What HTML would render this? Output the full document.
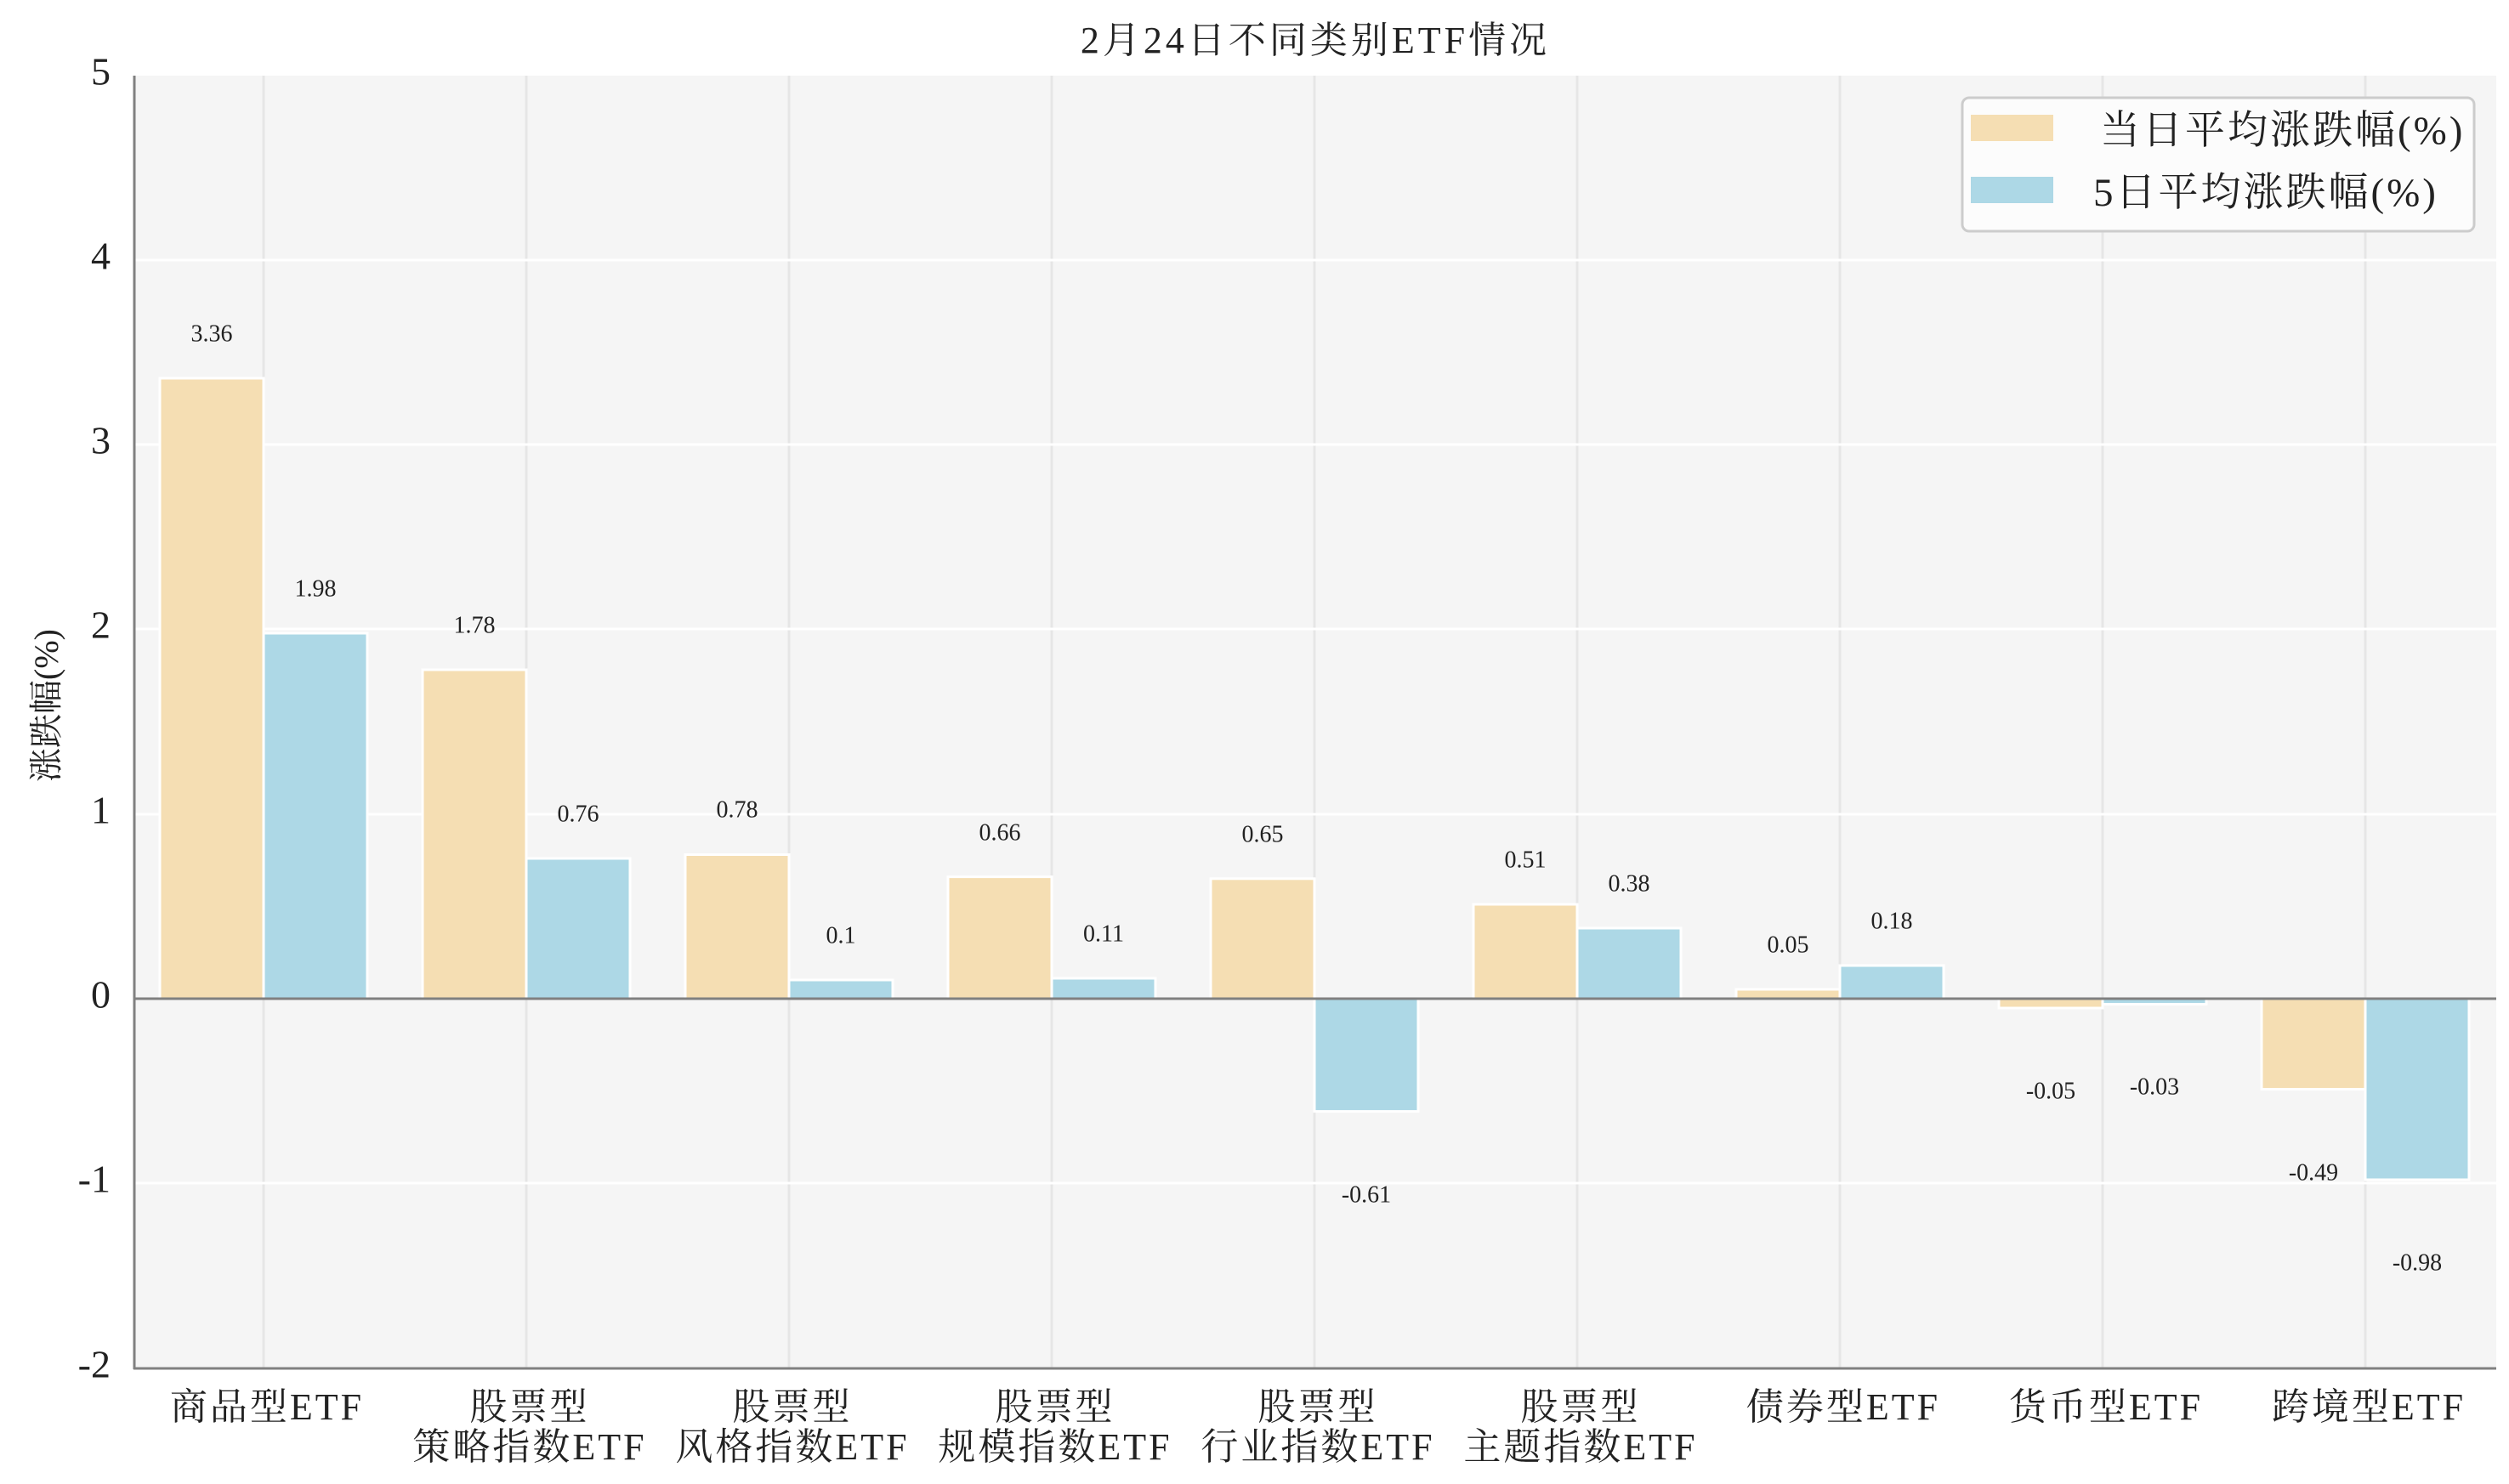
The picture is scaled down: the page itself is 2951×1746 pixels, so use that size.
<!DOCTYPE html>
<html><head><meta charset="utf-8"><style>
html,body{margin:0;padding:0;background:#fff}
svg{display:block}
text{font-family:"Liberation Serif","Noto Serif CJK SC",serif;fill:#222}
</style></head><body>
<svg width="2951" height="1746" viewBox="0 0 2951 1746" xmlns="http://www.w3.org/2000/svg">
<rect x="159" y="89" width="2777" height="1521" fill="#f5f5f5"/>
<g stroke="#e6e6e6" stroke-width="3">
<line x1="310" y1="89" x2="310" y2="1610"/><line x1="619" y1="89" x2="619" y2="1610"/><line x1="928" y1="89" x2="928" y2="1610"/><line x1="1237" y1="89" x2="1237" y2="1610"/><line x1="1546" y1="89" x2="1546" y2="1610"/><line x1="1855" y1="89" x2="1855" y2="1610"/><line x1="2164" y1="89" x2="2164" y2="1610"/><line x1="2473" y1="89" x2="2473" y2="1610"/><line x1="2782" y1="89" x2="2782" y2="1610"/>
</g>
<g stroke="#ffffff" stroke-width="3">
<line x1="159" y1="306" x2="2936" y2="306"/><line x1="159" y1="523" x2="2936" y2="523"/><line x1="159" y1="740" x2="2936" y2="740"/><line x1="159" y1="958" x2="2936" y2="958"/><line x1="159" y1="1392" x2="2936" y2="1392"/>
</g>
<g stroke="#fff" stroke-width="3">
<rect x="188" y="445" width="122" height="730" fill="#f5deb3"/>
<rect x="310" y="745" width="122" height="430" fill="#add8e6"/>
<rect x="497" y="788" width="122" height="387" fill="#f5deb3"/>
<rect x="619" y="1010" width="122" height="165" fill="#add8e6"/>
<rect x="806" y="1005.5" width="122" height="169.5" fill="#f5deb3"/>
<rect x="928" y="1153" width="122" height="22" fill="#add8e6"/>
<rect x="1115" y="1031.6" width="122" height="143.4" fill="#f5deb3"/>
<rect x="1237" y="1151" width="122" height="24" fill="#add8e6"/>
<rect x="1424" y="1033.8" width="122" height="141.2" fill="#f5deb3"/>
<rect x="1546" y="1175" width="122" height="132.6" fill="#add8e6"/>
<rect x="1733" y="1064" width="122" height="111" fill="#f5deb3"/>
<rect x="1855" y="1092" width="122" height="83" fill="#add8e6"/>
<rect x="2042" y="1164" width="122" height="11" fill="#f5deb3"/>
<rect x="2164" y="1136" width="122" height="39" fill="#add8e6"/>
<rect x="2351" y="1175" width="122" height="11" fill="#f5deb3"/>
<rect x="2473" y="1175" width="122" height="6.5" fill="#add8e6"/>
<rect x="2660" y="1175" width="122" height="106.5" fill="#f5deb3"/>
<rect x="2782" y="1175" width="122" height="213" fill="#add8e6"/>
</g>
<line x1="159" y1="1175" x2="2936" y2="1175" stroke="#808080" stroke-width="3"/>
<line x1="158" y1="89" x2="158" y2="1611" stroke="#808080" stroke-width="3"/>
<line x1="157" y1="1610" x2="2936" y2="1610" stroke="#808080" stroke-width="3"/>
<g font-size="28" text-anchor="middle" dominant-baseline="middle">
<text x="249" y="395">3.36</text><text x="371" y="695">1.98</text>
<text x="558" y="738">1.78</text><text x="680" y="960">0.76</text>
<text x="867" y="955">0.78</text><text x="989" y="1103">0.1</text>
<text x="1176" y="982">0.66</text><text x="1298" y="1101">0.11</text>
<text x="1485" y="984">0.65</text><text x="1607" y="1408">-0.61</text>
<text x="1794" y="1014">0.51</text><text x="1916" y="1042">0.38</text>
<text x="2103" y="1114">0.05</text><text x="2225" y="1086">0.18</text>
<text x="2412" y="1286">-0.05</text><text x="2534" y="1281">-0.03</text>
<text x="2721" y="1382">-0.49</text><text x="2843" y="1488">-0.98</text>
</g>
<g font-size="46" text-anchor="end" dominant-baseline="middle">
<text x="130" y="89">5</text><text x="130" y="306">4</text><text x="130" y="523">3</text><text x="130" y="740">2</text><text x="130" y="958">1</text><text x="130" y="1175">0</text><text x="130" y="1392">-1</text><text x="130" y="1610">-2</text>
</g>
<g font-size="44" text-anchor="middle" letter-spacing="3">
<text x="314" y="1670">商品型ETF</text>
<text x="623" y="1670">股票型</text><text x="623" y="1717">策略指数ETF</text>
<text x="932" y="1670">股票型</text><text x="932" y="1717">风格指数ETF</text>
<text x="1241" y="1670">股票型</text><text x="1241" y="1717">规模指数ETF</text>
<text x="1550" y="1670">股票型</text><text x="1550" y="1717">行业指数ETF</text>
<text x="1859" y="1670">股票型</text><text x="1859" y="1717">主题指数ETF</text>
<text x="2168" y="1670">债券型ETF</text>
<text x="2477" y="1670">货币型ETF</text>
<text x="2786" y="1670">跨境型ETF</text>
</g>
<text x="1547" y="62" font-size="44" text-anchor="middle" letter-spacing="4">2月24日不同类别ETF情况</text>
<text transform="translate(68,830) rotate(-90)" font-size="40" text-anchor="middle">涨跌幅(%)</text>
<rect x="2308" y="115" width="602" height="157" rx="8" fill="#fcfcfc" stroke="#cccccc" stroke-width="3"/>
<rect x="2318" y="135" width="97" height="31" fill="#f5deb3"/>
<rect x="2318" y="208" width="97" height="31" fill="#add8e6"/>
<g font-size="47" letter-spacing="3">
<text x="2470" y="169">当日平均涨跌幅(%)</text>
<text x="2462" y="242">5日平均涨跌幅(%)</text>
</g>
</svg>
</body></html>
